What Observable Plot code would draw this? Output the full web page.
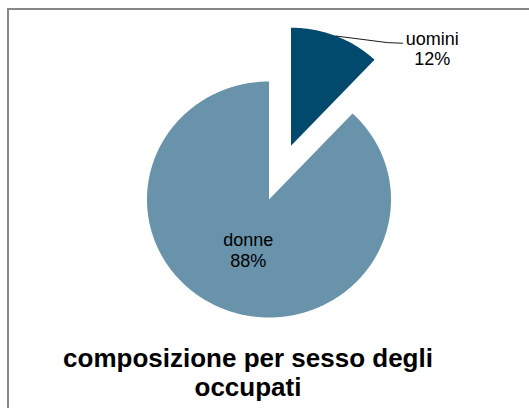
<!DOCTYPE html>
<html>
<head>
<meta charset="utf-8">
<script src="https://cdn.jsdelivr.net/npm/d3@7"></script>
<script src="https://cdn.jsdelivr.net/npm/@observablehq/plot@0.6"></script>
<style>
  html, body { margin: 0; padding: 0; background: #fff; overflow: hidden; }
  body { width: 529px; height: 408px; position: relative; font-family: "Liberation Sans", Arial, sans-serif; }
  #frame { position: absolute; left: 7px; top: 8px; width: 700px; height: 600px;
           border-left: 2px solid #878787; border-top: 2px solid #878787; }
  #chart { position: absolute; left: 0; top: 0; }
  #title { position: absolute; left: 0; width: 496px; top: 344px; text-align: center;
           font-weight: bold; font-size: 26px; line-height: 29px; color: #000; }
</style>
</head>
<body>
<div id="frame"></div>
<div id="chart"></div>
<div id="title">composizione per sesso degli<br>occupati</div>
<script>
// ---- data ----
const categories = ["uomini", "donne"];
const values = [12, 88];
const percentLabels = ["12%", "88%"];

// ---- style / layout config ----
const colors = ["#024a6d", "#6893aa"];
const explode = [0.49, 0];          // in radius units
const labelRadius = [null, 0.46];   // inside label radius (radius units)
const outsideLabel = {dx: 0.79, dy: -0.105, elbowDx: 0.423, elbowDy: -0.056, endDx: 0.546, endDy: -0.061};

// ---- build slices ----
const total = d3.sum(values);
let acc = 0;
const slices = categories.map((name, i) => {
  const a0 = acc / total * 2 * Math.PI;
  acc += values[i];
  const a1 = acc / total * 2 * Math.PI;
  const mid = (a0 + a1) / 2;
  const ox = explode[i] * Math.sin(mid);
  const oy = explode[i] * Math.cos(mid);
  return {name, value: values[i], pct: percentLabels[i], a0, a1, mid, ox, oy};
});

const polyPoints = [];
for (const s of slices) {
  polyPoints.push({name: s.name, x: s.ox, y: s.oy});
  const n = Math.max(2, Math.ceil((s.a1 - s.a0) / (Math.PI / 360)));
  for (let k = 0; k <= n; k++) {
    const a = s.a0 + (s.a1 - s.a0) * k / n;
    polyPoints.push({name: s.name, x: s.ox + Math.sin(a), y: s.oy + Math.cos(a)});
  }
  polyPoints.push({name: s.name, x: s.ox, y: s.oy});
}

// labels
const labels = [];
const leader = [];
slices.forEach((s, i) => {
  if (labelRadius[i] != null) {
    labels.push({text: s.name + "\n" + s.pct,
                 x: s.ox + labelRadius[i] * Math.sin(s.mid),
                 y: s.oy + labelRadius[i] * Math.cos(s.mid)});
  } else {
    const px = s.ox + Math.sin(s.mid), py = s.oy + Math.cos(s.mid);
    leader.push({x: px, y: py});
    leader.push({x: px + outsideLabel.elbowDx, y: py + outsideLabel.elbowDy});
    leader.push({x: px + outsideLabel.endDx, y: py + outsideLabel.endDy});
    labels.push({text: s.name + "\n" + s.pct, x: px + outsideLabel.dx, y: py + outsideLabel.dy});
  }
});

const chart = Plot.plot({
  width: 529,
  height: 340,
  margin: 0,
  style: {background: "transparent", fontFamily: "Liberation Sans, Arial, sans-serif"},
  x: {domain: [-1, 1], range: [146.5, 390.5], axis: null},
  y: {domain: [-1, 1], range: [317, 81], axis: null},
  color: {domain: categories, range: colors},
  marks: [
    Plot.line(polyPoints, {x: "x", y: "y", z: "name", fill: "name", stroke: "none", curve: "linear"}),
    Plot.line(leader, {x: "x", y: "y", stroke: "#000", strokeWidth: 0.9}),
    Plot.text(labels, {x: "x", y: "y", text: "text", fontSize: 18, lineHeight: 1.15,
                       lineAnchor: "middle", textAnchor: "middle", fill: "#000"})
  ]
});
document.getElementById("chart").appendChild(chart);
</script>
</body>
</html>
